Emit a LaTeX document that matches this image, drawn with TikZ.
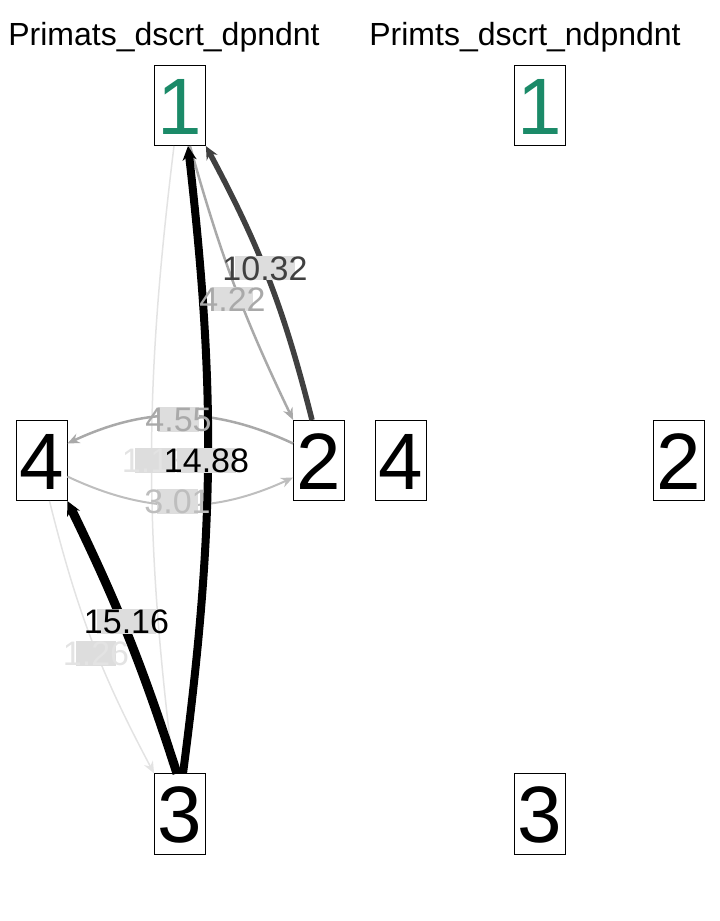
\documentclass[tikz,border=0pt]{standalone}
\usepackage{fontspec}
\setmainfont{Liberation Sans}
\usetikzlibrary{arrows.meta}
\definecolor{cDark}{HTML}{404040}
\definecolor{cMid}{HTML}{A9A9A9}
\definecolor{cLight}{HTML}{BEBEBE}
\definecolor{cFaint}{HTML}{E3E3E3}
\definecolor{labelbg}{HTML}{DDDDDD}
\definecolor{vgreen}{HTML}{1B8A68}
\begin{document}
\begin{tikzpicture}[x=1pt,y=-1pt,
  vbox/.style={draw=black,line width=0.8pt,fill=white,font=\fontsize{80}{96}\selectfont,
    inner xsep=3pt,inner ysep=11.5pt,text height=57.3pt,text depth=0pt,minimum width=51pt},
  elabel/.style={fill=labelbg,font=\fontsize{34}{40}\selectfont,inner xsep=-13pt,
    inner ysep=0pt,text height=24.3pt,text depth=0pt},
  title/.style={font=\fontsize{32}{38}\selectfont,anchor=base},
  edge/.style={line cap=butt},
  tipS/.style={-{Stealth[length=12pt,width=10pt]}},
  tipM/.style={-{Stealth[length=13pt,width=12pt]}},
  tipL/.style={-{Stealth[length=14pt,width=14pt]}}
]
\useasboundingbox (0,0) rectangle (720,921);

% titles
\node[title] (t1) at (164,45) {Primats\_dscrt\_dpndnt};
\node[title] (t2) at (525,45) {Primts\_dscrt\_ndpndnt};

% left panel vertices
\node[vbox,text=vgreen] (n1) at (180,105.5) {1};
\node[vbox] (n4) at (41.5,460.5) {4};
\node[vbox] (n2) at (319,460.5) {2};
\node[vbox] (n3) at (180,814) {3};

% right panel vertices
\node[vbox,text=vgreen] (m1) at (540,105.5) {1};
\node[vbox] (m4) at (401,460.5) {4};
\node[vbox] (m2) at (679,460.5) {2};
\node[vbox] (m3) at (540,814) {3};

% edges
\draw[edge,line width=1.5pt,cFaint,tipS] ([xshift=-6pt]n1.south) to[bend right=7] ([xshift=-6pt]n3.north);
\draw[edge,line width=1.5pt,cFaint,tipS] ([xshift=8pt]n4.south) to[bend right=7] (n3.north west);
\draw[edge,line width=2pt,cLight,tipS] ([yshift=-16pt]n4.east) to[bend right=25] ([yshift=-17pt]n2.west);
\draw[edge,line width=2.5pt,cMid,tipS] ([yshift=17pt]n2.west) to[bend right=25] ([yshift=17pt]n4.east);
\draw[edge,line width=2.5pt,cMid,tipS] ([xshift=10pt]n1.south) to[bend right=5] (n2.north west);
\draw[edge,line width=5.5pt,cDark,tipM] ([xshift=-7pt]n2.north) to[bend right=7] (n1.south east);
\draw[edge,line width=8pt,black,tipL] ([xshift=3pt]n3.north) to[bend right=7] ([xshift=8pt]n1.south);
\draw[edge,line width=9pt,black,tipL] ([xshift=-3pt]n3.north) to[bend right=4] (n4.south east);

% edge labels
\node[elabel,text=cFaint] (l13) at (155,460.5) {1.13};
\node[elabel,text=black] (l31) at (206.5,460.5) {14.88};
\node[elabel,text=cMid] (l24) at (178.5,419.5) {4.55};
\node[elabel,text=cLight] (l42) at (177.5,501.5) {3.01};
\node[elabel,text=cDark] (l21) at (265,268) {10.32};
\node[elabel,text=cMid] (l12) at (232.5,299) {4.22};
\node[elabel,text=black] (l34) at (126.5,621.5) {15.16};
\node[elabel,text=cFaint] (l43) at (96,653.5) {1.26};
\end{tikzpicture}
\end{document}
